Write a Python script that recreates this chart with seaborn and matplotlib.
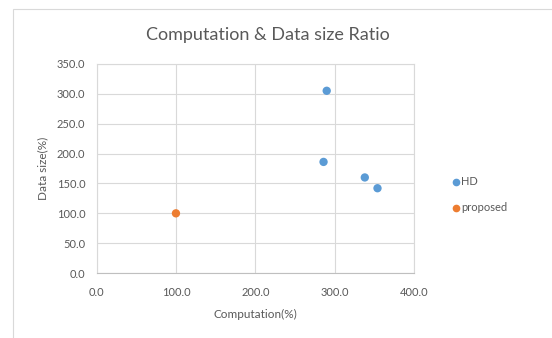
import matplotlib
matplotlib.use("Agg")
import matplotlib.pyplot as plt
import seaborn as sns
import pandas as pd
from matplotlib.patches import Rectangle

# data
hd_comp = [290, 286, 338, 354]
hd_size = [305, 186, 160, 142]
prop_comp = [100]
prop_size = [100]
series = ["HD", "proposed"]
colors = ["#5B9BD5", "#ED7D31"]

df = pd.DataFrame({
    "Computation": hd_comp + prop_comp,
    "DataSize": hd_size + prop_size,
    "Series": ["HD"] * len(hd_comp) + ["proposed"] * len(prop_comp),
})

sns.set_style("white")
plt.rcParams["font.family"] = ["Lato", "DejaVu Sans"]

fig = plt.figure(figsize=(5.52, 3.38), dpi=100)
ax = fig.add_axes([0.175, 0.192, 0.575, 0.619])

sns.scatterplot(data=df, x="Computation", y="DataSize", hue="Series",
                hue_order=series, palette=colors, s=36, edgecolor="none",
                ax=ax, legend=False, zorder=3)

ax.set_xlim(0, 400)
ax.set_ylim(0, 350)
ax.set_xticks([0, 100, 200, 300, 400])
ax.set_yticks([0, 50, 100, 150, 200, 250, 300, 350])
ax.xaxis.set_major_formatter(matplotlib.ticker.FormatStrFormatter("%.1f"))
ax.yaxis.set_major_formatter(matplotlib.ticker.FormatStrFormatter("%.1f"))
ax.grid(True, color="#D9D9D9", linewidth=0.8)
ax.set_axisbelow(True)
for sp in ax.spines.values():
    sp.set_color("#D9D9D9")
    sp.set_linewidth(0.8)
ax.spines["bottom"].set_color("#BFBFBF")
ax.tick_params(axis="both", length=0, labelsize=8, labelcolor="#595959")
ax.tick_params(axis="x", pad=10)
ax.tick_params(axis="y", pad=8)

ax.set_xlabel("Computation(%)", fontsize=8.5, color="#595959", labelpad=8)
ax.set_ylabel("Data size(%)", fontsize=8.5, color="#595959", labelpad=6)
fig.text(0.485, 0.895, "Computation & Data size Ratio", ha="center", va="center",
         fontsize=13, color="#595959")

# legend on the right
for i, (name, c) in enumerate(zip(series, colors)):
    y = 0.462 - i * 0.076
    fig.lines.append(plt.Line2D([0.8265], [y], marker="o", markersize=4.5,
                                color=c, linestyle="none",
                                transform=fig.transFigure))
    fig.text(0.836, y, name, fontsize=8, color="#595959", va="center")

# chart area border
fig.patches.append(Rectangle((0.024, -0.02), 1.0, 0.993, transform=fig.transFigure,
                             fill=False, edgecolor="#D9D9D9", linewidth=0.8))

fig.savefig("out.png", dpi=100)
